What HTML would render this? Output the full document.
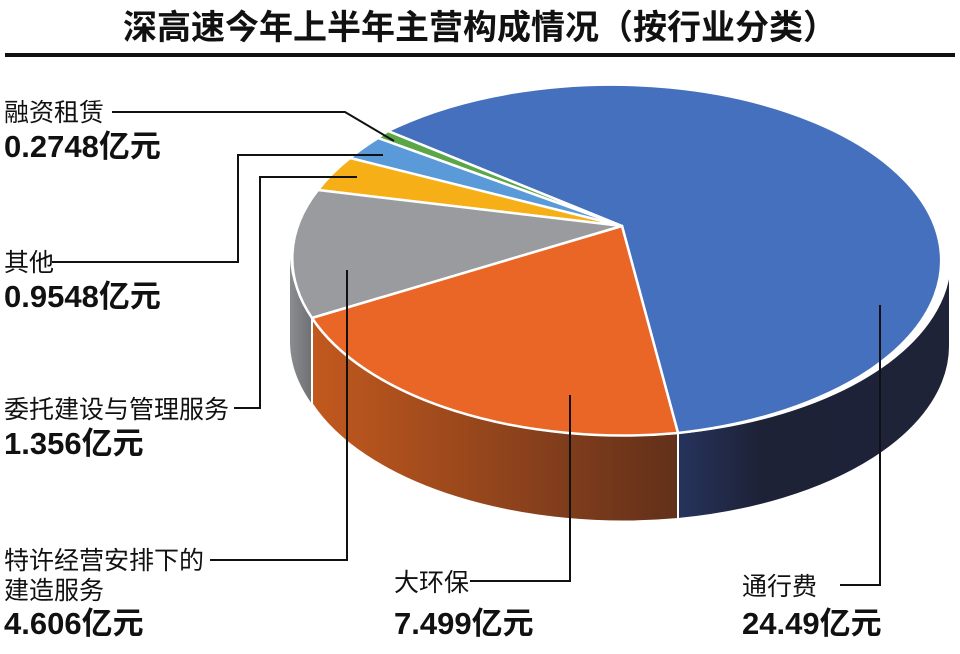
<!DOCTYPE html>
<html><head><meta charset="utf-8"><style>
body{margin:0;background:#fff;}
svg{display:block;}
text{font-family:"Liberation Sans","Noto Sans CJK SC",sans-serif;fill:#111;}
.l{font-size:25px;}
.v{font-size:31px;font-weight:bold;}
</style></head><body>
<svg width="960" height="654" viewBox="0 0 960 654">
<defs>
<linearGradient id="go" x1="0" x2="1"><stop offset="0" stop-color="#c2591e"/><stop offset="1" stop-color="#62301a"/></linearGradient>
<linearGradient id="gb" x1="0" x2="1"><stop offset="0" stop-color="#26335c"/><stop offset="0.3" stop-color="#1d2237"/><stop offset="1" stop-color="#1e2338"/></linearGradient>
<linearGradient id="gg" x1="0" x2="1"><stop offset="0" stop-color="#8a8c90"/><stop offset="1" stop-color="#6e7074"/></linearGradient>
</defs>
<text x="480" y="39" text-anchor="middle" style="font-size:34px;font-weight:bold">深高速今年上半年主营构成情况（按行业分类）</text>
<rect x="5" y="53" width="950" height="4" fill="#111"/>
<path d="M290,258 A330,176 0 0 0 312,318 L312,404 A330,176 0 0 1 290,344 Z" fill="url(#gg)"/>
<path d="M312,318 A330,176 0 0 0 678,433 L678,519 A330,176 0 0 1 312,404 Z" fill="url(#go)" stroke="#fff" stroke-width="2"/>
<path d="M678,433 A330,176 0 0 0 950,258 L950,344 A330,176 0 0 1 678,519 Z" fill="url(#gb)" stroke="#fff" stroke-width="2"/>
<g stroke="#fff" stroke-width="2.5" stroke-linejoin="round">
<path d="M622,226 L678,433 A330,176 0 1 0 388,131 Z" fill="#4570be"/>
<path d="M622,226 L388,131 A330,176 0 0 0 378,138 Z" fill="#5ba646"/>
<path d="M622,226 L378,138 A330,176 0 0 0 350,158 Z" fill="#5a9ad8"/>
<path d="M622,226 L350,158 A330,176 0 0 0 318,190 Z" fill="#f7af18"/>
<path d="M622,226 L318,190 A330,176 0 0 0 312,318 Z" fill="#999b9e"/>
<path d="M622,226 L312,318 A330,176 0 0 0 678,433 Z" fill="#ea6626"/>
</g>
<g stroke="#111" stroke-width="2" fill="none">
<polyline points="112,112 345,112 394,141"/>
<polyline points="52,262 238,262 238,155 383,155"/>
<polyline points="234,408 260,408 260,177 357,177"/>
<polyline points="210,560 347,560 347,270"/>
<polyline points="470,581 570,581 570,395"/>
<polyline points="840,585 880,585 880,305"/>
</g>
<text class="l" x="4" y="121">融资租赁</text>
<text class="v" x="4" y="157">0.2748亿元</text>
<text class="l" x="4" y="271">其他</text>
<text class="v" x="4" y="307">0.9548亿元</text>
<text class="l" x="4" y="418">委托建设与管理服务</text>
<text class="v" x="4" y="454">1.356亿元</text>
<text class="l" x="4" y="569">特许经营安排下的</text>
<text class="l" x="4" y="599">建造服务</text>
<text class="v" x="4" y="634">4.606亿元</text>
<text class="l" x="394" y="591">大环保</text>
<text class="v" x="394" y="634">7.499亿元</text>
<text class="l" x="742" y="595">通行费</text>
<text class="v" x="742" y="634">24.49亿元</text>
</svg>
</body></html>
